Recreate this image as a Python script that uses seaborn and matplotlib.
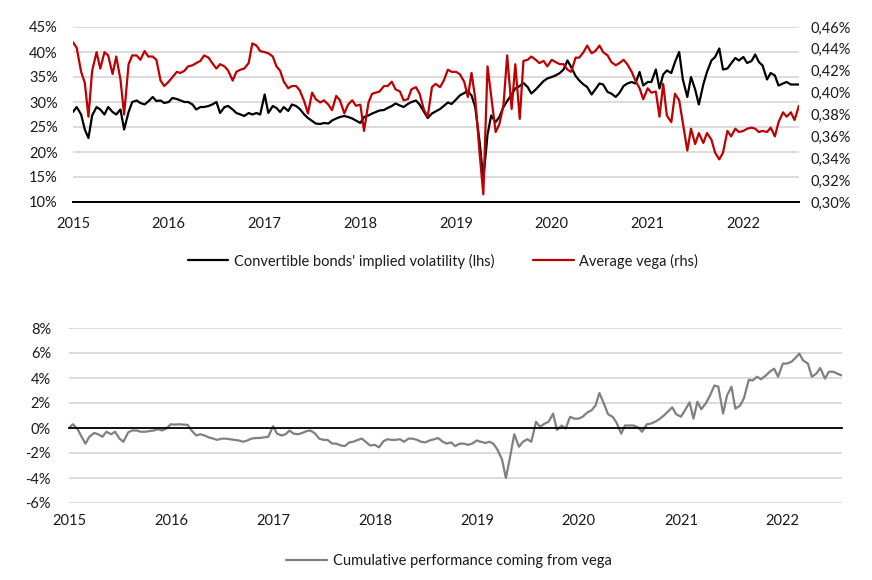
import numpy as np
import pandas as pd
import seaborn as sns
import matplotlib.pyplot as plt
import matplotlib.ticker as mticker
from matplotlib.lines import Line2D

dates = pd.date_range("2015-01-01", "2022-08-01", freq="SMS")

implied_vol = [
    28.0, 29.0, 27.5, 24.5, 22.8, 27.3, 29.0, 28.5, 27.5, 29.0,
    28.0, 27.5, 28.5, 24.5, 28.0, 30.0, 30.3, 29.8, 29.5, 30.1,
    31.0, 30.2, 30.3, 29.8, 30.0, 30.8, 30.6, 30.3, 30.0, 30.0,
    29.5, 28.5, 29.0, 29.0, 29.2, 29.5, 30.0, 27.8, 29.0, 29.2,
    28.5, 27.8, 27.5, 27.2, 27.8, 27.5, 27.8, 27.5, 31.5, 27.8,
    29.2, 28.8, 28.0, 29.0, 28.2, 29.5, 29.2, 28.6, 27.5, 26.8,
    26.2, 25.7, 25.6, 25.8, 25.7, 26.3, 26.7, 27.0, 27.2, 27.0,
    26.7, 26.3, 25.8, 27.0, 27.3, 27.7, 28.0, 28.3, 28.4, 28.8,
    29.2, 29.7, 29.3, 29.0, 29.6, 30.0, 30.3, 29.5, 28.0, 26.8,
    27.7, 28.1, 28.6, 29.2, 29.9, 29.6, 30.5, 31.3, 31.8, 32.2,
    31.3, 29.0, 22.0, 14.5, 23.5, 27.3, 26.0, 27.0, 29.0, 30.2,
    31.5, 32.7, 33.2, 33.8, 33.0, 31.7, 32.5, 33.3, 34.2, 34.7,
    35.0, 35.3, 35.8, 36.5, 38.3, 37.0, 35.2, 34.3, 33.5, 33.0,
    31.5, 32.5, 33.7, 33.5, 32.0, 31.7, 31.0, 31.8, 33.2, 33.7,
    34.0, 33.7, 36.0, 33.3, 34.0, 34.0, 36.5, 32.7, 35.5, 36.3,
    35.8, 38.0, 40.0, 34.5, 31.0, 35.0, 32.5, 29.5, 33.5, 36.0,
    38.3, 39.0, 40.7, 36.5, 36.7, 37.7, 38.8, 38.3, 39.0, 37.8,
    38.2, 39.5, 38.0, 37.3, 34.5, 35.8, 35.3, 33.3, 33.7, 34.0,
    33.5, 33.5, 33.5,
]

avg_vega = [
    0.446, 0.441, 0.419, 0.409, 0.378, 0.420, 0.437, 0.422, 0.437, 0.434,
    0.417, 0.433, 0.412, 0.380, 0.426, 0.434, 0.434, 0.430, 0.438, 0.433,
    0.433, 0.430, 0.411, 0.406, 0.410, 0.414, 0.419, 0.418, 0.420, 0.424,
    0.425, 0.427, 0.429, 0.434, 0.432, 0.427, 0.422, 0.426, 0.424, 0.420,
    0.411, 0.419, 0.421, 0.422, 0.427, 0.445, 0.443, 0.438, 0.437, 0.436,
    0.433, 0.424, 0.420, 0.410, 0.404, 0.406, 0.406, 0.402, 0.392, 0.381,
    0.400, 0.394, 0.391, 0.393, 0.389, 0.384, 0.397, 0.393, 0.381, 0.389,
    0.393, 0.388, 0.389, 0.365, 0.391, 0.399, 0.400, 0.401, 0.406, 0.406,
    0.410, 0.403, 0.401, 0.393, 0.394, 0.403, 0.405, 0.399, 0.384, 0.378,
    0.405, 0.408, 0.405, 0.411, 0.421, 0.419, 0.419, 0.417, 0.410, 0.396,
    0.418, 0.395, 0.344, 0.307, 0.424, 0.397, 0.364, 0.371, 0.389, 0.434,
    0.385, 0.426, 0.376, 0.429, 0.430, 0.433, 0.430, 0.427, 0.429, 0.424,
    0.430, 0.428, 0.426, 0.426, 0.421, 0.419, 0.432, 0.432, 0.437, 0.443,
    0.436, 0.438, 0.443, 0.437, 0.434, 0.428, 0.425, 0.427, 0.430, 0.426,
    0.419, 0.411, 0.404, 0.394, 0.404, 0.400, 0.401, 0.378, 0.408, 0.379,
    0.373, 0.399, 0.393, 0.372, 0.347, 0.367, 0.353, 0.363, 0.354, 0.363,
    0.357, 0.345, 0.339, 0.345, 0.365, 0.360, 0.367, 0.364, 0.365, 0.367,
    0.368, 0.367, 0.364, 0.365, 0.364, 0.368, 0.360, 0.373, 0.382, 0.378,
    0.382, 0.375, 0.388,
]

cum_perf = [
    0.0, 0.3, -0.1, -0.7, -1.25, -0.7, -0.4, -0.5, -0.7, -0.3,
    -0.5, -0.3, -0.85, -1.1, -0.35, -0.2, -0.2, -0.3, -0.3, -0.25,
    -0.2, -0.1, -0.2, -0.05, 0.3, 0.27, 0.3, 0.27, 0.25, -0.2,
    -0.6, -0.5, -0.6, -0.75, -0.85, -0.95, -0.85, -0.85, -0.9, -0.95,
    -1.0, -1.1, -1.0, -0.85, -0.8, -0.8, -0.75, -0.7, 0.15, -0.45,
    -0.6, -0.5, -0.2, -0.45, -0.5, -0.4, -0.25, -0.2, -0.45, -0.85,
    -0.95, -0.95, -1.25, -1.25, -1.4, -1.45, -1.15, -1.1, -0.95, -0.85,
    -1.15, -1.4, -1.35, -1.55, -1.05, -0.9, -0.95, -0.95, -0.9, -1.1,
    -0.85, -0.85, -0.95, -1.1, -1.15, -1.0, -0.9, -0.8, -1.1, -1.25,
    -1.15, -1.45, -1.25, -1.25, -1.35, -1.25, -1.0, -1.1, -1.2, -1.1,
    -1.25, -1.7, -2.5, -4.0, -2.2, -0.5, -1.5, -1.1, -0.9, -1.1,
    0.5, 0.1, 0.35, 0.5, 1.15, -0.15, 0.2, -0.05, 0.9, 0.75,
    0.75, 0.9, 1.25, 1.4, 1.8, 2.8, 1.9, 1.1, 0.9, 0.45,
    -0.45, 0.2, 0.2, 0.2, 0.05, -0.3, 0.3, 0.35, 0.5, 0.7,
    1.0, 1.3, 1.65, 1.1, 0.9, 1.4, 2.05, 0.75, 2.1, 1.5,
    2.0, 2.6, 3.4, 3.3, 1.15, 2.6, 3.3, 1.55, 1.8, 2.4,
    3.85, 3.8, 4.1, 3.9, 4.2, 4.5, 4.75, 4.1, 5.15, 5.15,
    5.3, 5.6, 5.95, 5.4, 5.15, 4.1, 4.35, 4.8, 3.95, 4.5,
    4.5, 4.35, 4.2,
]

years = list(range(2015, 2023))
year_ticks = [pd.Timestamp(f"{y}-01-01") for y in years]

black = "#000000"
red = "#C00000"
grey = "#808080"
grid_col = "#D9D9D9"
txt_col = "#1a1a1a"

sns.set_style("white")
plt.rcParams['font.family'] = ['Lato', 'DejaVu Sans']
plt.rcParams['font.size'] = 10.5

df = pd.DataFrame({"date": dates, "vol": implied_vol, "vega": avg_vega, "perf": cum_perf})

fig = plt.figure(figsize=(8.72, 5.80), dpi=100)

# ---- top chart ----
ax = fig.add_axes([73 / 872, 1 - 202 / 580, 726 / 872, 175 / 580])
ax2 = ax.twinx()
sns.lineplot(data=df, x="date", y="vol", ax=ax, color=black, linewidth=1.6, legend=False)
sns.lineplot(data=df, x="date", y="vega", ax=ax2, color=red, linewidth=1.6, legend=False)

ax.set_ylim(10, 45)
ax.set_yticks(np.arange(10, 46, 5))
ax.yaxis.set_major_formatter(mticker.FuncFormatter(lambda v, p: f"{v:.0f}%"))
ax2.set_ylim(0.30, 0.46)
ax2.set_yticks(np.arange(0.30, 0.4601, 0.02))
ax2.yaxis.set_major_formatter(mticker.FuncFormatter(lambda v, p: f"{v:.2f}%".replace(".", ",")))

for a in (ax, ax2):
    a.set_xlim(dates[0], dates[-1])
    a.set_xlabel("")
    a.set_ylabel("")
    for s in ["top", "left", "right"]:
        a.spines[s].set_visible(False)
    a.spines["bottom"].set_color(black)
    a.spines["bottom"].set_linewidth(1.3)

ax.set_axisbelow(True)
ax.grid(axis="y", color=grid_col, linewidth=1.3)
ax.grid(axis="x", visible=False)
ax2.grid(False)
ax.set_xticks(year_ticks)
ax.set_xticklabels([str(y) for y in years])
ax.tick_params(axis="x", direction="out", length=5, width=1.2, color=black, pad=6, labelcolor=txt_col)
ax.tick_params(axis="y", length=0, pad=11, labelcolor=txt_col)
ax2.tick_params(axis="y", length=0, pad=8, labelcolor=txt_col)
ax2.tick_params(axis="x", length=0)

top_handles = [Line2D([], [], color=black, linewidth=1.6),
               Line2D([], [], color=red, linewidth=1.6)]
fig.legend(top_handles, ["Convertible bonds' implied volatility (lhs)", "Average vega (rhs)"],
           loc="center", bbox_to_anchor=(0.508, 1 - 261 / 580), ncol=2, frameon=False,
           handlelength=2.8, columnspacing=2.6, handletextpad=0.4, fontsize=10.5,
           labelcolor=txt_col)

# ---- bottom chart ----
ax3 = fig.add_axes([69 / 872, 1 - 503 / 580, 773 / 872, 175 / 580])
sns.lineplot(data=df, x="date", y="perf", ax=ax3, color=grey, linewidth=1.6, legend=False)
ax3.set_xlim(dates[0], dates[-1])
ax3.set_ylim(-6, 8)
ax3.set_yticks(np.arange(-6, 9, 2))
ax3.yaxis.set_major_formatter(mticker.FuncFormatter(lambda v, p: f"{v:.0f}%"))
ax3.set_xlabel("")
ax3.set_ylabel("")
for s in ["top", "left", "right"]:
    ax3.spines[s].set_visible(False)
ax3.spines["bottom"].set_position(("data", 0))
ax3.spines["bottom"].set_color(black)
ax3.spines["bottom"].set_linewidth(1.3)
ax3.set_axisbelow(True)
ax3.grid(axis="y", color=grid_col, linewidth=1.3)
ax3.grid(axis="x", visible=False)
ax3.set_xticks(year_ticks)
ax3.tick_params(axis="x", direction="out", length=5, width=1.2, color=black, labelbottom=False)
ax3.tick_params(axis="y", length=0, pad=13, labelcolor=txt_col)
for y, t in zip(years, year_ticks):
    ax3.text(t, -0.065, str(y), transform=ax3.get_xaxis_transform(), ha="center", va="top",
             color=txt_col, fontsize=10.5)

fig.legend([Line2D([], [], color=grey, linewidth=1.6)], ["Cumulative performance coming from vega"],
           loc="center", bbox_to_anchor=(0.515, 1 - 561 / 580), ncol=1, frameon=False,
           handlelength=2.8, handletextpad=0.4, fontsize=10.5, labelcolor=txt_col)

fig.savefig("out.png", dpi=100)
